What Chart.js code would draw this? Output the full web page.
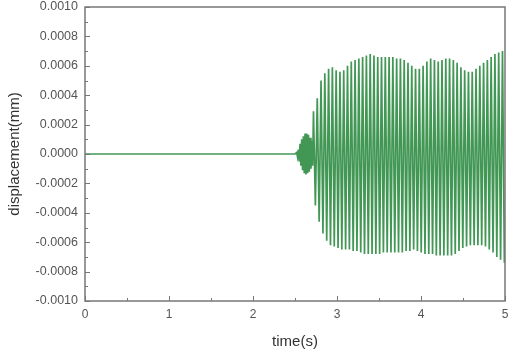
<!DOCTYPE html>
<html>
<head>
<meta charset="utf-8">
<script src="https://cdn.jsdelivr.net/npm/chart.js@4.4.0/dist/chart.umd.min.js"></script>
<style>
  html, body { margin: 0; padding: 0; background: #fff; }
  #wrap { width: 518px; height: 351px; }
</style>
</head>
<body>
<div id="wrap"><canvas id="dispChart" width="518" height="351"></canvas></div>
<script>
// quiet part before the onset (s, mm)
const quietTimes = [0, 0.5, 1.0, 1.5, 2.0, 2.5];
const quietValues = [0, 0, 0, 0, 0, 0];

// short dense burst at the onset (units of 1e-4 mm)
const burstTimes = [2.52, 2.53, 2.54, 2.55, 2.56, 2.57, 2.58, 2.59, 2.60, 2.61, 2.62, 2.63, 2.64, 2.65, 2.66, 2.67, 2.68, 2.69, 2.70, 2.71];
const burstValues = [0.1, -0.2, 0.3, -0.5, 0.7, -0.8, 1.0, -1.1, 1.2, -1.3, 1.4, -1.4, 1.4, -1.3, 1.3, -1.2, 1.1, -1.0, 0.9, -0.8];

// one cycle per entry: time of the crest, crest and trough (units of 1e-4 mm)
const cycleTimes = [2.72, 2.765, 2.81, 2.855, 2.90, 2.945, 2.99, 3.035, 3.08, 3.125,
  3.17, 3.215, 3.26, 3.305, 3.35, 3.395, 3.44, 3.485, 3.53, 3.575,
  3.62, 3.665, 3.71, 3.755, 3.80, 3.845, 3.89, 3.935, 3.98, 4.025,
  4.07, 4.115, 4.16, 4.205, 4.25, 4.295, 4.34, 4.385, 4.43, 4.475,
  4.52, 4.565, 4.61, 4.655, 4.70, 4.745, 4.79, 4.835, 4.88, 4.925, 4.97];
const crestValues = [2.9, 3.8, 5.0, 5.5, 5.8, 5.9, 5.7, 5.6, 5.7, 6.0,
  6.3, 6.4, 6.5, 6.6, 6.7, 6.8, 6.7, 6.6, 6.6, 6.6,
  6.6, 6.6, 6.5, 6.5, 6.4, 6.2, 6.0, 5.8, 5.8, 6.0,
  6.3, 6.5, 6.4, 6.3, 6.4, 6.5, 6.5, 6.4, 6.2, 5.9,
  5.7, 5.6, 5.6, 5.8, 6.0, 6.2, 6.4, 6.6, 6.8, 6.9, 7.0];
const troughValues = [-3.5, -4.6, -5.4, -5.9, -6.2, -6.3, -6.4, -6.5, -6.5, -6.5,
  -6.6, -6.6, -6.7, -6.8, -6.8, -6.8, -6.8, -6.8, -6.7, -6.7,
  -6.7, -6.7, -6.7, -6.7, -6.6, -6.6, -6.5, -6.6, -6.7, -6.8,
  -6.8, -6.8, -6.9, -6.9, -6.9, -6.9, -6.9, -6.8, -6.6, -6.4,
  -6.3, -6.2, -6.2, -6.2, -6.2, -6.3, -6.5, -6.7, -7.0, -7.2, -7.4];
const halfPeriod = 0.0225;

const xTicks = [0, 1, 2, 3, 4, 5];
const yTicks = [-0.0010, -0.0008, -0.0006, -0.0004, -0.0002, 0.0000, 0.0002, 0.0004, 0.0006, 0.0008, 0.0010];

// build the point list
const points = [];
quietTimes.forEach((t, i) => points.push({ x: t, y: quietValues[i] }));
burstTimes.forEach((t, i) => points.push({ x: t, y: burstValues[i] * 1e-4 }));
cycleTimes.forEach((t, i) => {
  points.push({ x: t, y: crestValues[i] * 1e-4 });
  points.push({ x: t + halfPeriod, y: troughValues[i] * 1e-4 });
});

const axisGray = '#777';
const labelGray = '#555';

// inward major/minor ticks and the closed frame
const frameTicks = {
  id: 'frameTicks',
  afterDraw(chart) {
    const { ctx, chartArea: a, scales } = chart;
    const xs = scales.x, ys = scales.y;
    ctx.save();
    ctx.strokeStyle = axisGray;
    ctx.lineWidth = 1.5;
    ctx.strokeRect(a.left, a.top, a.right - a.left, a.bottom - a.top);
    ctx.lineWidth = 1;
    for (let v = 0; v <= 5.001; v += 0.5) {
      const px = Math.round(xs.getPixelForValue(v)) + 0.5;
      const len = Math.abs(v - Math.round(v)) < 1e-6 ? 5 : 3;
      ctx.beginPath();
      ctx.moveTo(px, a.bottom);
      ctx.lineTo(px, a.bottom - len);
      ctx.stroke();
    }
    for (let k = -10; k <= 10; k++) {
      const py = Math.round(ys.getPixelForValue(k * 1e-4)) + 0.5;
      const len = k % 2 === 0 ? 5 : 3;
      ctx.beginPath();
      ctx.moveTo(a.left, py);
      ctx.lineTo(a.left + len, py);
      ctx.stroke();
    }
    ctx.restore();
  }
};

new Chart(document.getElementById('dispChart'), {
  type: 'line',
  data: {
    datasets: [{
      data: points,
      borderColor: 'rgba(25, 128, 48, 0.82)',
      borderWidth: 1.7,
      pointRadius: 0,
      tension: 0,
      fill: false
    }]
  },
  options: {
    responsive: false,
    animation: false,
    events: [],
    layout: { padding: { top: 7, right: 13, left: 6, bottom: 0 } },
    plugins: { legend: { display: false }, tooltip: { enabled: false } },
    scales: {
      x: {
        type: 'linear',
        min: 0,
        max: 5,
        afterBuildTicks: s => { s.ticks = xTicks.map(v => ({ value: v })); },
        afterFit: s => { s.height = 50; s.paddingLeft = 0; s.paddingRight = 0; },
        grid: { display: false, drawTicks: false },
        border: { display: false },
        ticks: {
          padding: 6,
          color: labelGray,
          font: { family: 'Liberation Sans', size: 12 },
          maxRotation: 0,
          callback: v => String(v)
        },
        title: {
          display: true,
          text: 'time(s)',
          color: '#333',
          font: { family: 'Liberation Sans', size: 15 },
          padding: { top: 2, bottom: 0 }
        }
      },
      y: {
        type: 'linear',
        min: -0.001,
        max: 0.001,
        afterBuildTicks: s => { s.ticks = yTicks.map(v => ({ value: v })); },
        afterFit: s => { s.width = 79; s.paddingTop = 0; s.paddingBottom = 0; },
        grid: { display: false, drawTicks: false },
        border: { display: false },
        ticks: {
          padding: 7,
          color: labelGray,
          font: { family: 'Liberation Sans', size: 12.5 },
          callback: v => Number(v).toFixed(4)
        },
        title: {
          display: true,
          text: 'displacement(mm)',
          color: '#333',
          font: { family: 'Liberation Sans', size: 15 },
          padding: { top: 0, bottom: 0 }
        }
      }
    }
  },
  plugins: [frameTicks]
});
</script>
</body>
</html>
